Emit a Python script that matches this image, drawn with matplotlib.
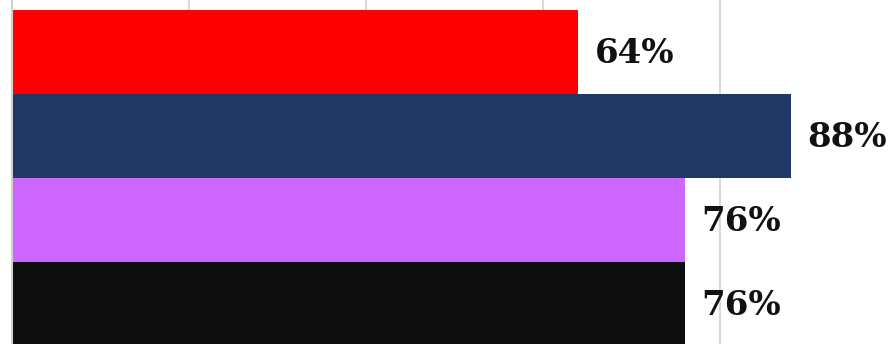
import matplotlib
matplotlib.use("Agg")
import matplotlib.pyplot as plt

# Share of respondents per group
categories = ["A", "B", "C", "D"]
values = [64, 88, 76, 76]
colors = ["#ff0000", "#203864", "#cc66ff", "#0d0d0d"]
labels = ["64%", "88%", "76%", "76%"]

fig = plt.figure(figsize=(8.9, 3.44), dpi=100)
ax = fig.add_axes([12 / 890, 0, 878 / 890, 1])

y = list(range(len(categories)))
ax.barh(y, values, height=1.0, color=colors, edgecolor="none", zorder=2)

ax.set_xlim(0, 99.2)
ax.set_ylim(3.476, -0.619)

ax.set_xticks([20, 40, 60, 80])
ax.grid(axis="x", color="#d9d9d9", linewidth=1.5, zorder=0)
ax.tick_params(left=False, bottom=False, labelleft=False, labelbottom=False)

for s in ("top", "right", "bottom"):
    ax.spines[s].set_visible(False)
ax.spines["left"].set_color("#d0d0d0")
ax.spines["left"].set_linewidth(1.5)
ax.spines["left"].set_zorder(3)

for yi, v, lab in zip(y, values, labels):
    ax.annotate(lab, xy=(v, yi), xytext=(12, -1), textcoords="offset points",
                va="center", ha="left", fontsize=24.5, fontweight="bold",
                family=["DejaVu Serif"], color="#111111")

fig.savefig("out.png", dpi=100)
